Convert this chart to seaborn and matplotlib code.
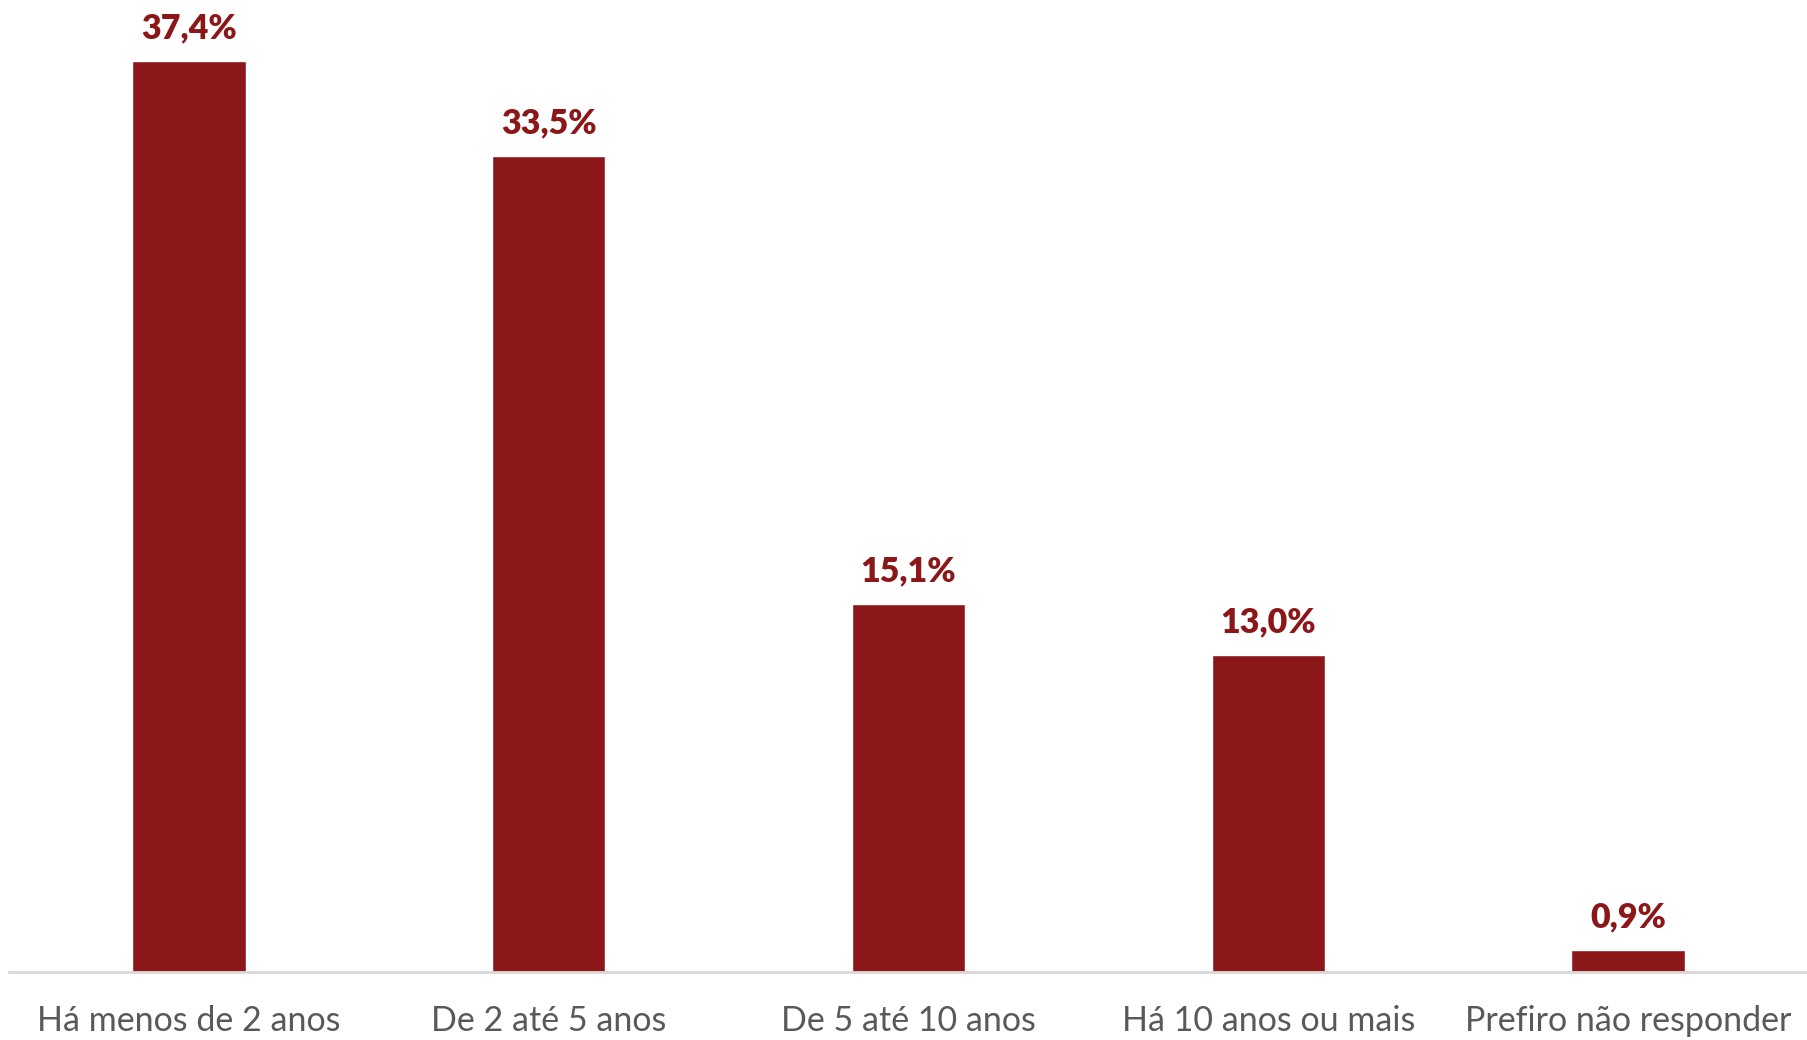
import matplotlib
matplotlib.use("Agg")
import matplotlib.pyplot as plt
import seaborn as sns
import pandas as pd

categories = ["Há menos de 2 anos", "De 2 até 5 anos", "De 5 até 10 anos",
              "Há 10 anos ou mais", "Prefiro não responder"]
values = [37.4, 33.5, 15.1, 13.0, 0.9]
value_labels = ["37,4%", "33,5%", "15,1%", "13,0%", "0,9%"]

sns.set_theme(style="white")
plt.rcParams["font.family"] = ["Lato", "DejaVu Sans"]

bar_color = "#8C1719"
df = pd.DataFrame({"categoria": categories, "valor": values})

fig = plt.figure(figsize=(18.08, 10.40), dpi=100)
ax = fig.add_axes([0.0050, 0.0654, 0.9950, 0.9346])

sns.barplot(data=df, x="categoria", y="valor", color=bar_color,
            width=0.315, saturation=1, ax=ax)

ax.set_xlim(-0.5, 4.5)
ax.set_ylim(0, 39.9)
ax.set_xlabel("")
ax.set_ylabel("")
ax.set_yticks([])

for s in ["top", "right", "left"]:
    ax.spines[s].set_visible(False)
ax.spines["bottom"].set_color("#D9D9D9")
ax.spines["bottom"].set_linewidth(2)

ax.tick_params(axis="x", length=0, pad=24, labelsize=24.5, labelcolor="#595959")

for i, (v, lab) in enumerate(zip(values, value_labels)):
    ax.annotate(lab, (i, v), xytext=(0, 17), textcoords="offset pixels",
                ha="center", va="bottom", fontsize=24.5, fontweight="heavy",
                color=bar_color)

fig.savefig("out.png", dpi=100)
